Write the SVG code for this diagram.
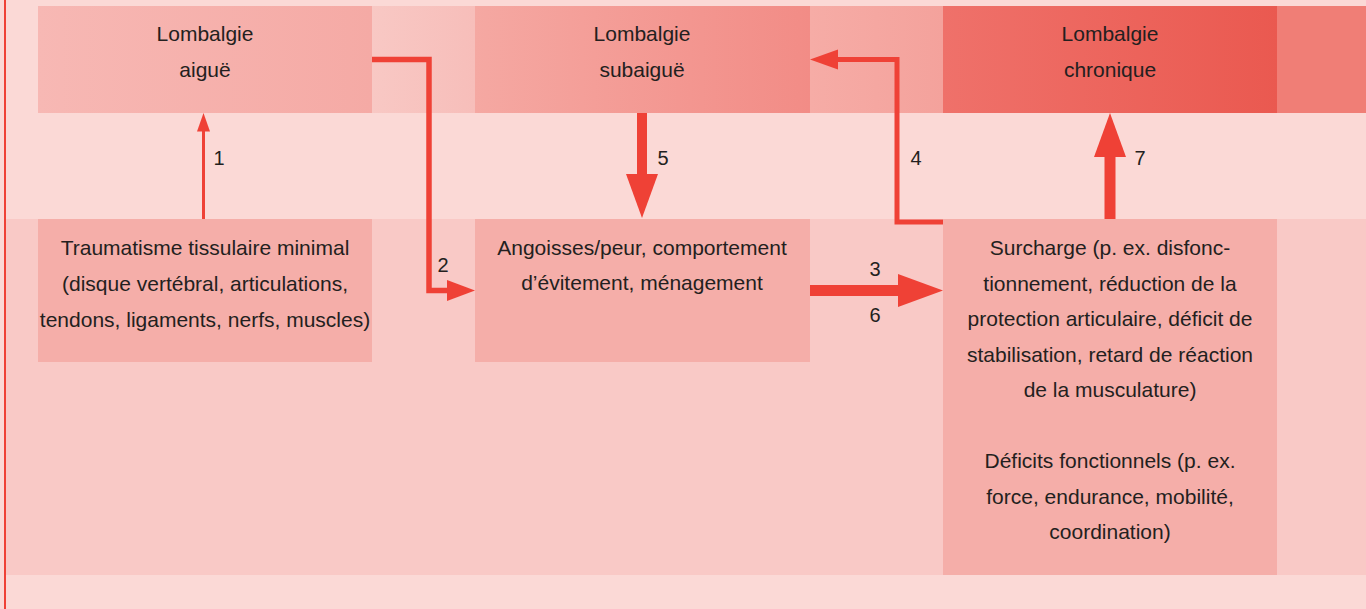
<svg xmlns="http://www.w3.org/2000/svg" width="1366" height="609" viewBox="0 0 1366 609">
  <defs>
    <linearGradient id="g1" x1="0" y1="0" x2="1" y2="0">
      <stop offset="0" stop-color="#F7B8B4"/>
      <stop offset="1" stop-color="#F5AAA5"/>
    </linearGradient>
    <linearGradient id="gb1" x1="0" y1="0" x2="1" y2="0">
      <stop offset="0" stop-color="#F8C8C4"/>
      <stop offset="1" stop-color="#F7BEBA"/>
    </linearGradient>
    <linearGradient id="g2" x1="0" y1="0" x2="1" y2="0">
      <stop offset="0" stop-color="#F5A8A2"/>
      <stop offset="1" stop-color="#F28C86"/>
    </linearGradient>
    <linearGradient id="gb2" x1="0" y1="0" x2="1" y2="0">
      <stop offset="0" stop-color="#F6ACA6"/>
      <stop offset="1" stop-color="#F4A29C"/>
    </linearGradient>
    <linearGradient id="g3" x1="0" y1="0" x2="1" y2="0">
      <stop offset="0" stop-color="#EF716A"/>
      <stop offset="1" stop-color="#EA5950"/>
    </linearGradient>
  </defs>
  <style>
    text { font-family: "Liberation Sans", Arial, sans-serif; font-size: 21px; fill: #231F20; text-anchor: middle; }
    .lbl { font-size: 20px; }
    .box { fill: #F5AEA9; }
    .ln { fill: none; stroke: #EF4136; stroke-linejoin: miter; }
    .hd { fill: #EF4136; }
  </style>

  <!-- background -->
  <rect x="0" y="0" width="1366" height="609" fill="#FBD9D6"/>
  <rect x="6" y="219" width="1360" height="356" fill="#F9C9C6"/>
  <rect x="372" y="6" width="103" height="107" fill="url(#gb1)"/>
  <rect x="810" y="6" width="133" height="107" fill="url(#gb2)"/>
  <rect x="1277" y="6" width="89" height="107" fill="#F07E76"/>
  <rect x="4" y="0" width="2" height="609" fill="#EF4136"/>

  <!-- nodes -->
  <g id="n-aigue">
    <rect x="38" y="6" width="334" height="107" fill="url(#g1)"/>
    <text x="205" y="41">Lombalgie</text>
    <text x="205" y="77">aiguë</text>
  </g>
  <g id="n-subaigue">
    <rect x="475" y="6" width="335" height="107" fill="url(#g2)"/>
    <text x="642" y="41">Lombalgie</text>
    <text x="642" y="77">subaiguë</text>
  </g>
  <g id="n-chronique">
    <rect x="943" y="6" width="334" height="107" fill="url(#g3)"/>
    <text x="1110" y="41">Lombalgie</text>
    <text x="1110" y="77">chronique</text>
  </g>
  <g id="n-trauma">
    <rect class="box" x="38" y="219" width="334" height="143"/>
    <text x="205" y="255">Traumatisme tissulaire minimal</text>
    <text x="205" y="291">(disque vertébral, articulations,</text>
    <text x="205" y="327">tendons, ligaments, nerfs, muscles)</text>
  </g>
  <g id="n-angoisses">
    <rect class="box" x="475" y="219" width="335" height="143"/>
    <text x="642" y="255">Angoisses/peur, comportement</text>
    <text x="642" y="290">d’évitement, ménagement</text>
  </g>
  <g id="n-surcharge">
    <rect class="box" x="943" y="219" width="334" height="356"/>
    <text x="1110" y="255">Surcharge (p. ex. disfonc-</text>
    <text x="1110" y="290.5">tionnement, réduction de la</text>
    <text x="1110" y="326">protection articulaire, déficit de</text>
    <text x="1110" y="361.5">stabilisation, retard de réaction</text>
    <text x="1110" y="397">de la musculature)</text>
    <text x="1110" y="468">Déficits fonctionnels (p. ex.</text>
    <text x="1110" y="503.5">force, endurance, mobilité,</text>
    <text x="1110" y="539">coordination)</text>
  </g>

  <!-- connectors -->
  <g id="connectors">
    <!-- 1 -->
    <path class="ln" d="M203.5,219 V130" stroke-width="3"/>
    <polygon class="hd" points="197,131.5 203.5,113 210,131.5"/>
    <!-- 2 -->
    <path class="ln" d="M372,59.5 H429 V290.5 H448" stroke-width="5.5"/>
    <polygon class="hd" points="447,280 475,290.5 447,301"/>
    <!-- 3/6 -->
    <rect x="810" y="285" width="89" height="11" fill="#EF4136"/>
    <polygon class="hd" points="898,274 943,290.5 898,307"/>
    <!-- 4 -->
    <path class="ln" d="M943,222 H897 V59.5 H837" stroke-width="5"/>
    <polygon class="hd" points="838,49.5 810,59.5 838,69.5"/>
    <!-- 5 -->
    <rect x="637" y="113" width="10" height="62" fill="#EF4136"/>
    <polygon class="hd" points="626,174 658,174 642,218"/>
    <!-- 7 -->
    <rect x="1104.5" y="156" width="11" height="63" fill="#EF4136"/>
    <polygon class="hd" points="1094,157 1126,157 1110,113"/>
    <text class="lbl" x="219" y="165">1</text>
    <text class="lbl" x="443" y="272">2</text>
    <text class="lbl" x="875" y="276">3</text>
    <text class="lbl" x="875" y="322">6</text>
    <text class="lbl" x="916" y="165">4</text>
    <text class="lbl" x="663" y="165">5</text>
    <text class="lbl" x="1140" y="165">7</text>
  </g>
</svg>
